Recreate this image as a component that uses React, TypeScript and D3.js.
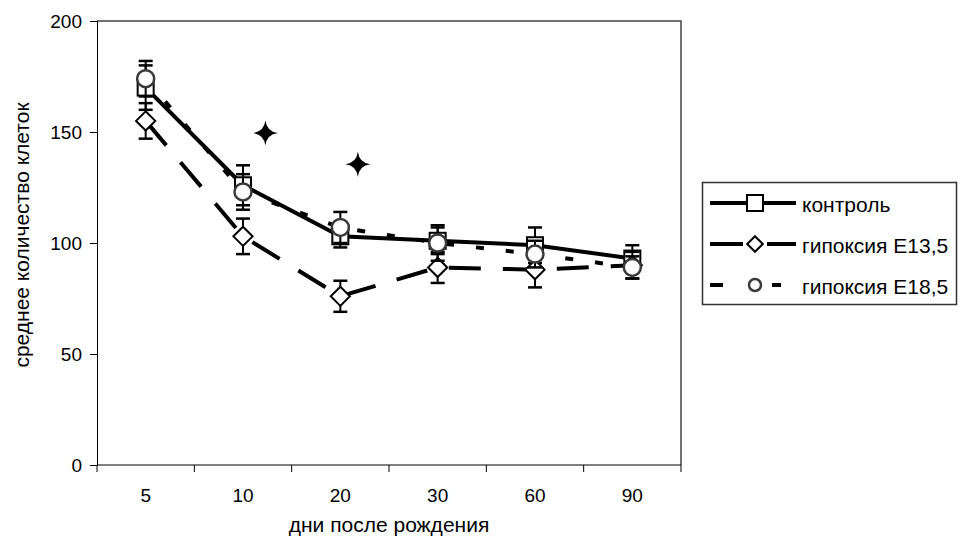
import * as d3 from "d3";
import { useEffect, useRef } from "react";

// ---- data ----
const days = ["5", "10", "20", "30", "60", "90"];
const yTicks = [0, 50, 100, 150, 200];

const seriesNames = ["контроль", "гипоксия E13,5", "гипоксия E18,5"];
const control = [170, 126, 103, 101, 99, 93];
const controlErr = [10, 9, 5, 6, 8, 6];
const hyp135 = [155, 103, 76, 89, 88, 90];
const hyp135Err = [8, 8, 7, 7, 8, 6];
const hyp185 = [174, 123, 107, 100, 95, 89];
const hyp185Err = [8, 8, 7, 8, 6, 5];

// significance marks (category, fraction of band, value)
const starDays = ["10", "20"];
const starFrac = [0.73, 0.68];
const starValues = [149.5, 135.5];

export default function App() {
  const ref = useRef<SVGSVGElement | null>(null);

  useEffect(() => {
    const width = 960;
    const height = 549;
    const margin = { top: 21, right: 279, bottom: 84, left: 97 };
    const font = "'Liberation Sans', Arial, sans-serif";

    const svg = d3.select(ref.current);
    svg.selectAll("*").remove();
    svg.attr("width", width).attr("height", height);

    const x = d3.scaleBand().domain(days).range([margin.left, width - margin.right]).padding(0);
    const y = d3.scaleLinear().domain([0, 200]).range([height - margin.bottom, margin.top]);
    const cx = (d: string) => (x(d) as number) + x.bandwidth() / 2;

    svg.append("rect").attr("width", width).attr("height", height).attr("fill", "#fff");

    // рамка графика (верх / справа)
    svg.append("path")
      .attr("d", `M${x.range()[0]},${y(200)}H${x.range()[1]}V${y(0)}`)
      .attr("fill", "none").attr("stroke", "#444").attr("stroke-width", 1.5);

    // ось Y
    const yAxis = svg.append("g")
      .attr("transform", `translate(${margin.left},0)`)
      .call(d3.axisLeft(y).tickValues(yTicks).tickSize(7).tickPadding(8));
    yAxis.select(".domain").attr("stroke", "#000");
    yAxis.selectAll("text").attr("font-family", font).attr("font-size", 19).attr("fill", "#000");

    // ось X, засечки по границам категорий
    const xg = svg.append("g").attr("transform", `translate(0,${y(0)})`);
    xg.append("line").attr("x1", x.range()[0]).attr("x2", x.range()[1]).attr("stroke", "#000");
    const edges = days.map((d) => x(d) as number).concat([x.range()[1]]);
    xg.selectAll("line.tk").data(edges).join("line").attr("class", "tk")
      .attr("x1", (d) => d).attr("x2", (d) => d).attr("y1", 0).attr("y2", 7).attr("stroke", "#000");
    xg.selectAll("text").data(days).join("text")
      .attr("x", (d) => cx(d)).attr("y", 37)
      .attr("text-anchor", "middle").attr("font-family", font).attr("font-size", 19)
      .text((d) => d);

    // подписи осей
    svg.append("text")
      .attr("x", (x.range()[0] + x.range()[1]) / 2).attr("y", 532)
      .attr("text-anchor", "middle").attr("font-family", font).attr("font-size", 21)
      .text("дни после рождения");
    svg.append("text")
      .attr("transform", `translate(29,${(y(0) + y(200)) / 2 - 8}) rotate(-90)`)
      .attr("text-anchor", "middle").attr("font-family", font).attr("font-size", 21)
      .text("среднее количество клеток");

    const line = d3.line<number>().x((_, i) => cx(days[i])).y((d) => y(d));

    const series = [
      { vals: control, err: controlErr, dash: null, marker: "square", color: "#000" },
      { vals: hyp135, err: hyp135Err, dash: "32,22", marker: "diamond", color: "#000" },
      { vals: hyp185, err: hyp185Err, dash: "8,22", marker: "circle", color: "#3a3a3a" },
    ];

    const drawMarker = (g: any, kind: string, px: number, py: number, s: number, color: string) => {
      if (kind === "square") {
        g.append("rect").attr("x", px - s / 2).attr("y", py - s / 2).attr("width", s).attr("height", s)
          .attr("fill", "#fff").attr("stroke", color).attr("stroke-width", 2);
      } else if (kind === "diamond") {
        const h = s * 0.6;
        g.append("path").attr("d", `M${px},${py - h}L${px + h},${py}L${px},${py + h}L${px - h},${py}Z`)
          .attr("fill", "#fff").attr("stroke", color).attr("stroke-width", 2);
      } else {
        g.append("circle").attr("cx", px).attr("cy", py).attr("r", s / 2 + 0.5)
          .attr("fill", "#fff").attr("stroke", color).attr("stroke-width", 2.5);
      }
    };

    series.forEach((s) => {
      const g = svg.append("g");
      // планки погрешностей
      s.vals.forEach((v, i) => {
        const px = cx(days[i]);
        const e = s.err[i];
        g.append("line").attr("x1", px).attr("x2", px).attr("y1", y(v + e)).attr("y2", y(v - e))
          .attr("stroke", "#000").attr("stroke-width", 2);
        [v + e, v - e].forEach((c) => {
          g.append("line").attr("x1", px - 7).attr("x2", px + 7).attr("y1", y(c)).attr("y2", y(c))
            .attr("stroke", "#000").attr("stroke-width", 2.5);
        });
      });
      g.append("path").attr("d", line(s.vals))
        .attr("fill", "none").attr("stroke", "#000").attr("stroke-width", 4)
        .attr("stroke-dasharray", s.dash);
      s.vals.forEach((v, i) => drawMarker(g, s.marker, cx(days[i]), y(v), 16, s.color));
    });

    // звёздочки
    const star = (r: number) => {
      const k = r * 0.11;
      return `M0,${-r}Q${k},${-k} ${r},0Q${k},${k} 0,${r}Q${-k},${k} ${-r},0Q${-k},${-k} 0,${-r}Z`;
    };
    svg.append("g").selectAll("path").data(starValues).join("path")
      .attr("transform", (d, i) => `translate(${(x(starDays[i]) as number) + x.bandwidth() * starFrac[i]},${y(d)})`)
      .attr("d", star(12.5)).attr("fill", "#000");

    // легенда
    const lg = svg.append("g");
    lg.append("rect").attr("x", 702.5).attr("y", 182.5).attr("width", 254).attr("height", 122)
      .attr("fill", "#fff").attr("stroke", "#333").attr("stroke-width", 1.5);
    const legendDash = [null, "33,24,29,100", "13,49,9,100"];
    const legendSize = [16, 13, 11];
    series.forEach((s, i) => {
      const ly = 203 + i * 41;
      lg.append("line").attr("x1", 710).attr("x2", 796).attr("y1", ly).attr("y2", ly)
        .attr("stroke", "#000").attr("stroke-width", 4).attr("stroke-dasharray", legendDash[i]);
      drawMarker(lg, s.marker, 755, ly, legendSize[i], s.color);
      lg.append("text").attr("x", 802).attr("y", ly + 9)
        .attr("font-family", font).attr("font-size", 21).text(seriesNames[i]);
    });
  }, []);

  return <svg ref={ref} style={{ position: "absolute", left: 0, top: 0 }} />;
}
